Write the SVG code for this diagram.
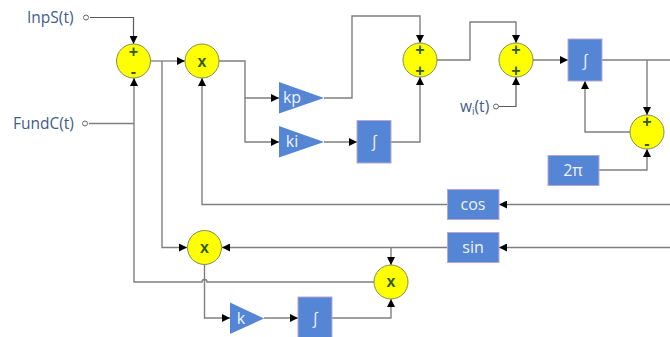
<svg xmlns="http://www.w3.org/2000/svg" width="670" height="337" viewBox="0 0 670 337">
<style>
.c{fill:none;stroke:#7f7f7f;stroke-width:1.4}
.d{fill:none;stroke:#595959;stroke-width:1.2}
.s{fill:#ffff00;stroke:#7d8f5a;stroke-width:1}
.b{fill:#5585d5;stroke:#b9a6d6;stroke-width:1}
.t{fill:#5585d5}
.w{font-family:"Open Sans","Noto Sans",sans-serif;font-size:16px;fill:#eef3fb;text-anchor:middle}
.l{font-family:"Open Sans","Noto Sans",sans-serif;font-size:15.500px;fill:#3f5c8a}
.o{font-family:"Liberation Sans",sans-serif;font-weight:bold;font-size:16px;fill:#2f5a1e;text-anchor:middle}
.p{fill:#fff;stroke:#666;stroke-width:1}
</style>
<defs>
<marker id="a" markerUnits="userSpaceOnUse" markerWidth="9" markerHeight="8" refX="8" refY="4" orient="auto"><path d="M0 0L8 4L0 8z" fill="#000"/></marker>
</defs>
<g id="connectors">
<path class="d" d="M90 17.500H133.500V44" marker-end="url(#a)"/>
<path class="c" d="M89 123.500H134"/>
<path class="c" d="M134 87V78" marker-end="url(#a)"/>
<path class="c" d="M134 87V282H202A2.500 2.500 0 0 1 207 282H374"/>
<path class="d" d="M151 61H185" marker-end="url(#a)"/>
<path class="c" d="M162 61V247.500H187" marker-end="url(#a)"/>
<path class="c" d="M219 61H245V98H279" marker-end="url(#a)"/>
<path class="c" d="M245 98V142H279" marker-end="url(#a)"/>
<path class="c" d="M324 98H352V16H420V43" marker-end="url(#a)"/>
<path class="c" d="M324 142H357" marker-end="url(#a)"/>
<path class="c" d="M391 142H420V77" marker-end="url(#a)"/>
<path class="c" d="M437 60H470V22H516V43" marker-end="url(#a)"/>
<path class="d" d="M497 106.500H516V77" marker-end="url(#a)"/>
<path class="c" d="M533 60H568" marker-end="url(#a)"/>
<path class="c" d="M602 60H670"/>
<path class="c" d="M647 60V115" marker-end="url(#a)"/>
<path class="c" d="M630 132H585V81" marker-end="url(#a)"/>
<path class="c" d="M599 170H647V149" marker-end="url(#a)"/>
<path class="c" d="M670 204.500H499" marker-end="url(#a)"/>
<path class="c" d="M448 204.500H202V78" marker-end="url(#a)"/>
<path class="c" d="M670 247.500H499" marker-end="url(#a)"/>
<path class="c" d="M448 247.500H222" marker-end="url(#a)"/>
<path class="c" d="M391 247.500V265" marker-end="url(#a)"/>
<path class="c" d="M204.500 264V318H230" marker-end="url(#a)"/>
<path class="c" d="M264 318H298" marker-end="url(#a)"/>
<path class="c" d="M332 318H391V299" marker-end="url(#a)"/>
</g>
<g id="input-inps"><text class="l" x="27" y="23">InpS(t)</text><circle class="p" cx="86" cy="17.500" r="2.500"/></g>
<g id="input-fundc"><text class="l" x="13" y="129">FundC(t)</text><circle class="p" cx="85" cy="123.500" r="2.500"/></g>
<g id="input-wi"><text class="l" x="460" y="112">w<tspan font-size="10" dy="3">i</tspan><tspan dy="-3">(t)</tspan></text><circle class="p" cx="496" cy="106.500" r="2.500"/></g>
<g id="sum1"><circle class="s" cx="133.500" cy="61" r="17"/><text class="o" x="133.500" y="57">+</text><text class="o" x="133.500" y="77">-</text></g>
<g id="mul1"><circle class="s" cx="202" cy="61" r="17"/><text class="o" x="202" y="67">x</text></g>
<g id="kp"><path class="t" d="M279 82L324 98L279 113.500z"/><text class="w" x="292" y="103">kp</text></g>
<g id="ki"><path class="t" d="M279 126L324 142L279 157.500z"/><text class="w" x="292" y="147">ki</text></g>
<g id="int1"><rect class="b" x="357" y="120.500" width="34" height="42.500"/><text class="w" x="374" y="147">∫</text></g>
<g id="sum2"><circle class="s" cx="420" cy="60" r="17"/><text class="o" x="420" y="55">+</text><text class="o" x="420" y="76">+</text></g>
<g id="sum3"><circle class="s" cx="516" cy="60" r="17"/><text class="o" x="516" y="55">+</text><text class="o" x="516" y="76">+</text></g>
<g id="int2"><rect class="b" x="568" y="39" width="34" height="42"/><text class="w" x="585" y="66">∫</text></g>
<g id="sum4"><circle class="s" cx="647" cy="132" r="17"/><text class="o" x="647" y="127">+</text><text class="o" x="647" y="149">-</text></g>
<g id="twopi"><rect class="b" x="548" y="155.500" width="51" height="30"/><text class="w" x="573" y="176">2π</text></g>
<g id="cos"><rect class="b" x="447.500" y="189.500" width="51.500" height="30"/><text class="w" x="473" y="210">cos</text></g>
<g id="sin"><rect class="b" x="447.500" y="232.500" width="51.500" height="30"/><text class="w" x="473" y="253">sin</text></g>
<g id="mul2"><circle class="s" cx="204.500" cy="247.500" r="17"/><text class="o" x="204.500" y="253">x</text></g>
<g id="mul3"><circle class="s" cx="391" cy="282" r="17"/><text class="o" x="391" y="287">x</text></g>
<g id="k"><path class="t" d="M230 302.500L264 318.500L230 334z"/><text class="w" x="241" y="324">k</text></g>
<g id="int3"><rect class="b" x="298" y="297" width="34" height="42"/><text class="w" x="315" y="324">∫</text></g>
</svg>
